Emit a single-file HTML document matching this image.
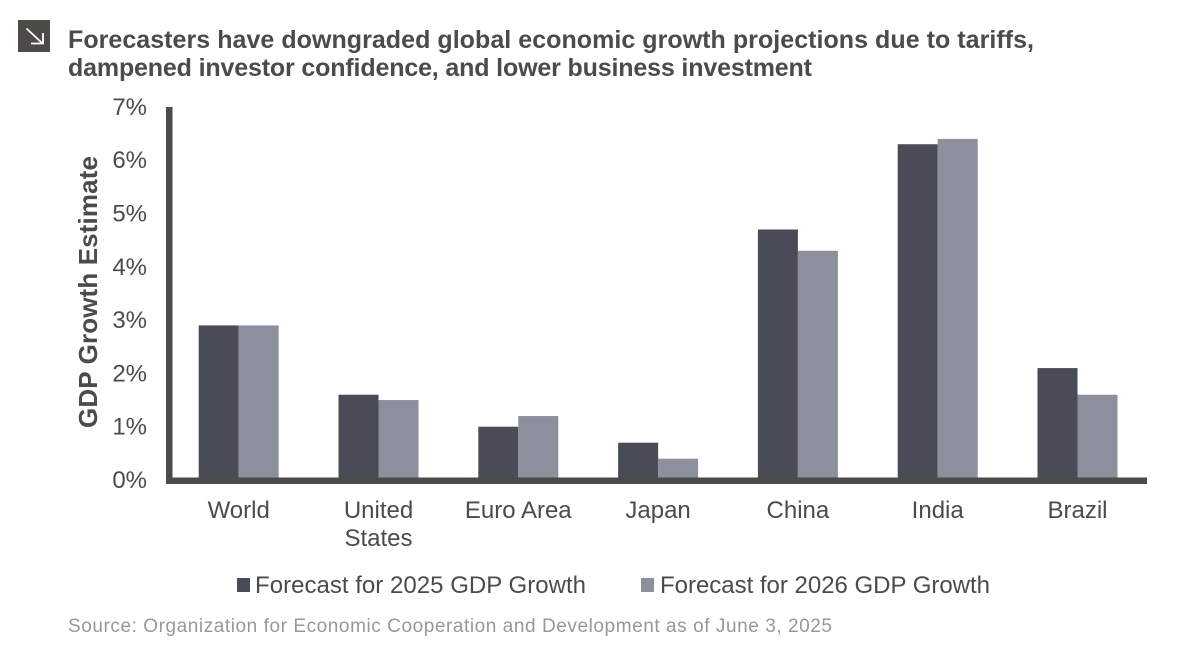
<!DOCTYPE html>
<html lang="en">
<head>
<meta charset="utf-8">
<title>GDP Growth Forecasts</title>
<style>
html,body{margin:0;padding:0;background:#fff;width:1200px;height:649px;overflow:hidden}
svg{display:block}
text{font-family:"Liberation Sans",sans-serif;fill:#4c4b47}
</style>
</head>
<body>
<svg id="chart" xmlns="http://www.w3.org/2000/svg" width="1200" height="649" viewBox="0 0 1200 649">
  <g>
    <rect x="18" y="20" width="32" height="32" fill="#4c4b47"/>
    <path d="M26.500 28.500 L42 43 M43 33 V43.500 H31" fill="none" stroke="#fff" stroke-width="1.800"/>
  </g>
  <text x="68" y="48" font-size="25" font-weight="700" textLength="966" lengthAdjust="spacing">Forecasters have downgraded global economic growth projections due to tariffs,</text>
  <text x="68" y="76" font-size="25" font-weight="700" textLength="744" lengthAdjust="spacing">dampened investor confidence, and lower business investment</text>
  <text transform="translate(97,292) rotate(-90)" text-anchor="middle" font-size="26" font-weight="700" textLength="272" lengthAdjust="spacing">GDP Growth Estimate</text>
  <g id="bars"></g>
  <g id="y-ticks"></g>
  <g id="x-labels"></g>
  <rect x="166" y="107" width="6.500" height="377" fill="#4c4b47"/>
  <rect x="169" y="477.500" width="978" height="6.500" fill="#4c4b47"/>
  <g>
    <g>
      <rect x="237" y="578" width="13" height="14" fill="#494c56"/>
      <text x="255" y="593" font-size="24" textLength="331" lengthAdjust="spacing">Forecast for 2025 GDP Growth</text>
    </g>
    <g>
      <rect x="641" y="578" width="13" height="14" fill="#8c8f9c"/>
      <text x="660" y="593" font-size="24" textLength="330" lengthAdjust="spacing">Forecast for 2026 GDP Growth</text>
    </g>
  </g>
  <text x="68" y="632" font-size="19" style="fill:#999896" textLength="764" lengthAdjust="spacing">Source: Organization for Economic Cooperation and Development as of June 3, 2025</text>
</svg>
<script>
const categories = [["World"], ["United", "States"], ["Euro Area"], ["Japan"], ["China"], ["India"], ["Brazil"]];
const forecast2025 = [2.9, 1.6, 1.0, 0.7, 4.7, 6.3, 2.1];
const forecast2026 = [2.9, 1.5, 1.2, 0.4, 4.3, 6.4, 1.6];
const yTickValues = [0, 1, 2, 3, 4, 5, 6, 7];

const NS = 'http://www.w3.org/2000/svg';
const plotLeft = 168.8;
const bandWidth = 139.8;
const barWidth = 40;
const zeroY = 480;
const unitHeight = 53.3;
const xCenter = i => plotLeft + bandWidth * (i + 0.5);
const yScale = v => zeroY - v * unitHeight;

const barsGroup = document.getElementById('bars');
const yTicksGroup = document.getElementById('y-ticks');
const xLabelsGroup = document.getElementById('x-labels');

function addBar(index, value, offset, color, seriesName) {
  const el = document.createElementNS(NS, 'rect');
  
  
  el.setAttribute('x', xCenter(index) + offset);
  el.setAttribute('y', yScale(value));
  el.setAttribute('width', barWidth);
  el.setAttribute('height', zeroY - yScale(value));
  el.setAttribute('fill', color);
  barsGroup.appendChild(el);
}

categories.forEach((lines, i) => {
  addBar(i, forecast2025[i], -barWidth, '#494c56', '2025');
  addBar(i, forecast2026[i], 0, '#8c8f9c', '2026');
  lines.forEach((line, j) => {
    const el = document.createElementNS(NS, 'text');
    
    
    el.setAttribute('x', xCenter(i));
    el.setAttribute('y', 518 + j * 28);
    el.setAttribute('text-anchor', 'middle');
    el.setAttribute('font-size', '24');
    el.textContent = line;
    xLabelsGroup.appendChild(el);
  });
});

yTickValues.forEach(v => {
  const el = document.createElementNS(NS, 'text');
  
  
  el.setAttribute('x', 147);
  el.setAttribute('y', yScale(v) + 8);
  el.setAttribute('text-anchor', 'end');
  el.setAttribute('font-size', '24');
  el.textContent = v + '%';
  yTicksGroup.appendChild(el);
});
</script>
</body>
</html>
